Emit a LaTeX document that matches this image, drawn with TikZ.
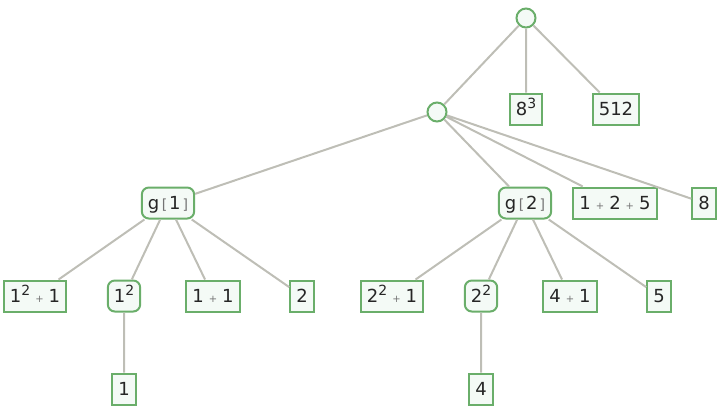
\documentclass[tikz,border=0pt]{standalone}
\usepackage{fontspec}
\setmainfont{DejaVu Sans}
\definecolor{nodegreen}{RGB}{106,174,106}
\definecolor{nodefill}{RGB}{244,250,246}
\definecolor{edgegray}{RGB}{190,190,182}
\definecolor{opgray}{RGB}{115,115,115}
\newcommand{\tplus}{\hspace{5pt}{\color{opgray}\fontsize{10}{10}\selectfont +}\hspace{5pt}}
\newcommand{\opbr}{\hspace{2.5pt}{\color{opgray}\fontsize{14}{14}\selectfont[}\hspace{2pt}}
\newcommand{\clbr}{\hspace{2pt}{\color{opgray}\fontsize{14}{14}\selectfont]}}
\newcommand{\pw}[2]{#1\raisebox{7.5pt}{\fontsize{14}{14}\selectfont #2}}
\tikzset{
    leaf/.style = {draw=nodegreen, fill=nodefill, line width=2pt,
        minimum height=31pt, inner xsep=6pt, inner ysep=0pt,
        text height=13pt, text depth=0pt, text=black!85,
        font=\fontsize{18}{20}\selectfont},
    fn/.style = {leaf, rounded corners=7pt},
    hub/.style = {circle, draw=nodegreen, fill=nodefill, line width=2pt,
        minimum size=19pt, inner sep=0pt},
    edge/.style = {draw=edgegray, line width=2pt}
}
\begin{document}
\begin{tikzpicture}[x=1pt, y=-1pt]
            \useasboundingbox (0, 0) rectangle (720, 408);

            % levels of the tree
            \node [hub] (top) at (526, 18) {};
            \node [hub] (mid) at (437, 112) {};
            \node [leaf] (cube) at (526, 109) {\pw{8}{3}};
            \node [leaf] (five12) at (616, 109) {512};

            \node [fn] (gone) at (168, 203) {g\opbr 1\clbr};
            \node [fn] (gtwo) at (525, 203) {g\opbr 2\clbr};
            \node [leaf] (sum) at (615, 203) {1\tplus 2\tplus 5};
            \node [leaf] (eight) at (704, 203) {8};

            \node [leaf] (sqone) at (35, 296) {\pw{1}{2}\tplus 1};
            \node [fn] (powone) at (124, 296) {\pw{1}{2}};
            \node [leaf] (oneone) at (213, 296) {1\tplus 1};
            \node [leaf] (two) at (302, 296) {2};

            \node [leaf] (sqtwo) at (392, 296) {\pw{2}{2}\tplus 1};
            \node [fn] (powtwo) at (481, 296) {\pw{2}{2}};
            \node [leaf] (fourone) at (570, 296) {4\tplus 1};
            \node [leaf] (five) at (659, 296) {5};

            \node [leaf] (one) at (124, 389) {1};
            \node [leaf] (four) at (481, 389) {4};

            \draw [edge]
            (top) -- (mid)
            (top) -- (cube)
            (top) -- (five12)
            (mid) -- (gone)
            (mid) -- (gtwo)
            (mid) -- (sum)
            (mid) -- (eight)
            (gone) -- (sqone)
            (gone) -- (powone)
            (gone) -- (oneone)
            (gone) -- (two)
            (gtwo) -- (sqtwo)
            (gtwo) -- (powtwo)
            (gtwo) -- (fourone)
            (gtwo) -- (five)
            (powone) -- (one)
            (powtwo) -- (four)
            ;
        \end{tikzpicture}
\end{document}
